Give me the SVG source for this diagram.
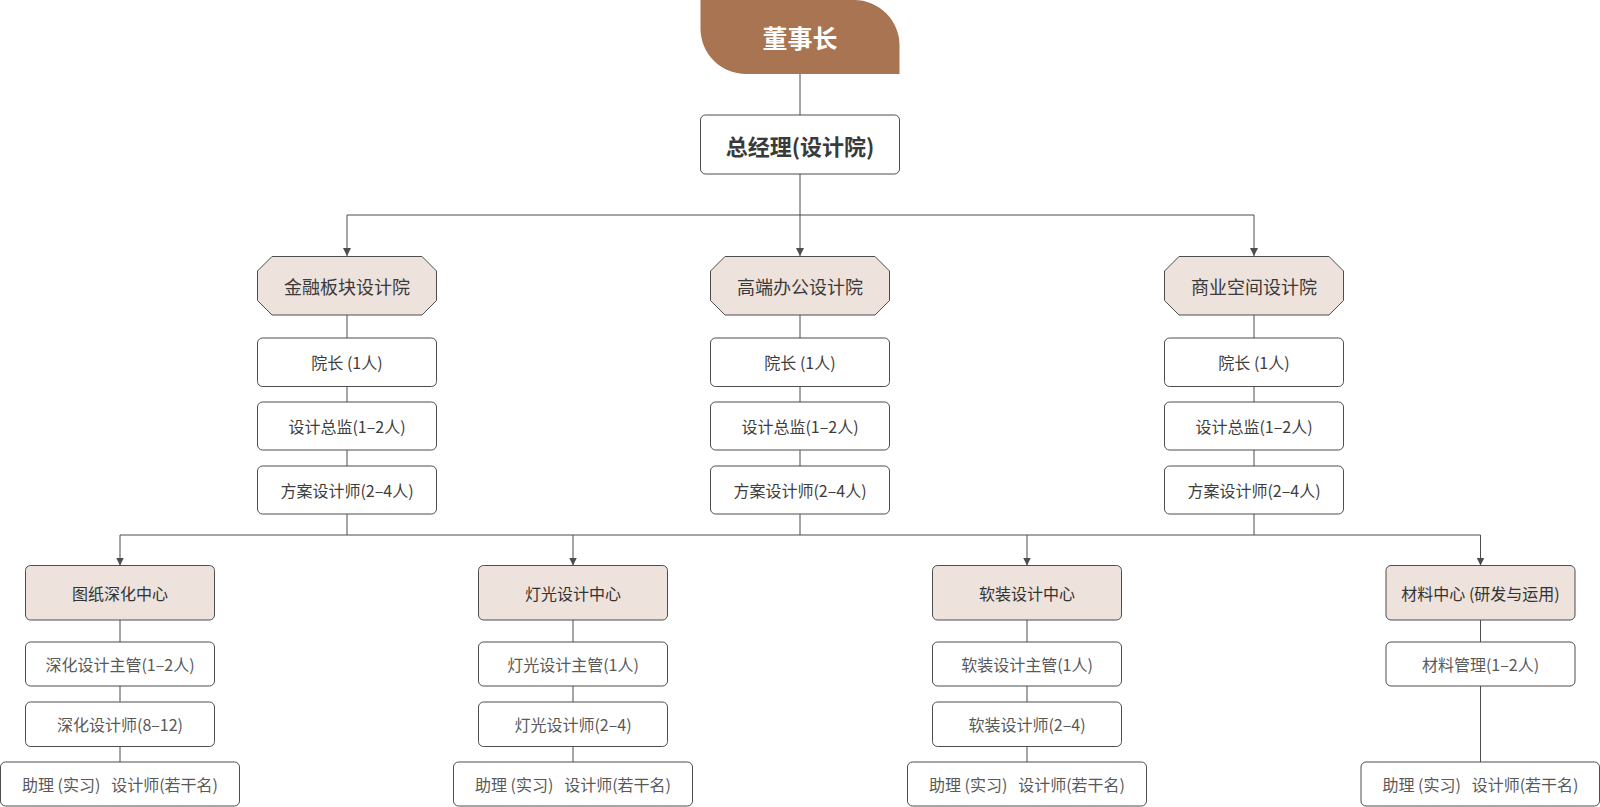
<svg xmlns="http://www.w3.org/2000/svg" width="1600" height="807" viewBox="0 0 1600 807">
<style>
text{font-family:"Noto Sans CJK SC","Noto Sans",sans-serif;text-anchor:middle;dominant-baseline:central}
.box{fill:#ffffff;stroke:#4d4d4d;stroke-width:1}
.cen{fill:#ede2dc;stroke:#4d4d4d;stroke-width:1}
.oct{fill:#ede2dc;stroke:#4d4d4d;stroke-width:1}
.ln{fill:none;stroke:#4d4d4d;stroke-width:1}
.t-top{font-size:25px;font-weight:700;fill:#ffffff}
.t-gm{font-size:22px;font-weight:700;fill:#3a3a3a}
.t-oct{font-size:18px;fill:#3a3a3a}
.t-mid{font-size:16px;fill:#3d3d3d}
.t-cen{font-size:16px;fill:#333333}
.t-sub{font-size:16px;fill:#595959}
</style>
<defs>
<marker id="arr" viewBox="0 0 8 8" refX="8" refY="4" markerWidth="8" markerHeight="8" markerUnits="userSpaceOnUse" orient="auto">
<path d="M0,0 L8,4 L0,8 Z" fill="#4d4d4d"/>
</marker>
</defs>
<rect width="1600" height="807" fill="#ffffff"/>
<g id="connectors">
<path class="ln" d="M800,74 V115"/>
<path class="ln" d="M800,174 V215"/>
<path class="ln" d="M347,215 H1254"/>
<path class="ln" d="M347,215 V256" marker-end="url(#arr)"/>
<path class="ln" d="M800,215 V256" marker-end="url(#arr)"/>
<path class="ln" d="M1254,215 V256" marker-end="url(#arr)"/>
<path class="ln" d="M347,315 V338 M347,386 V402 M347,450 V466 M347,514 V535"/>
<path class="ln" d="M800,315 V338 M800,386 V402 M800,450 V466 M800,514 V535"/>
<path class="ln" d="M1254,315 V338 M1254,386 V402 M1254,450 V466 M1254,514 V535"/>
<path class="ln" d="M120,535 H1480.5"/>
<path class="ln" d="M120,535 V565.5" marker-end="url(#arr)"/>
<path class="ln" d="M573,535 V565.5" marker-end="url(#arr)"/>
<path class="ln" d="M1027,535 V565.5" marker-end="url(#arr)"/>
<path class="ln" d="M1480.5,535 V565.5" marker-end="url(#arr)"/>
<path class="ln" d="M120,620 V642 M120,686 V702 M120,746.5 V762"/>
<path class="ln" d="M573,620 V642 M573,686 V702 M573,746.5 V762"/>
<path class="ln" d="M1027,620 V642 M1027,686 V702 M1027,746.5 V762"/>
<path class="ln" d="M1480.5,620 V642 M1480.5,686 V762"/>
</g>
<g id="n-chairman">
<path d="M700.5,0 H854 A45.5,45.5 0 0 1 899.5,45.5 V74 H746 A45.5,45.5 0 0 1 700.5,28.5 Z" fill="#a87452"/>
<text class="t-top" x="800" y="37">董事长</text>
</g>
<g id="n-gm">
<rect class="box" x="700.5" y="115" width="199" height="59" rx="5"/>
<text class="t-gm" x="800" y="144.5">总经理(设计院)</text>
</g>
<g id="n-inst1">
<path class="oct" d="M272,256.5 H422 L436.5,271 V300.5 L422,315 H272 L257.5,300.5 V271 Z"/>
<text class="t-oct" x="347" y="285.5">金融板块设计院</text>
</g>
<g id="n-inst2">
<path class="oct" d="M725,256.5 H875 L889.5,271 V300.5 L875,315 H725 L710.5,300.5 V271 Z"/>
<text class="t-oct" x="800" y="285.5">高端办公设计院</text>
</g>
<g id="n-inst3">
<path class="oct" d="M1179,256.5 H1329 L1343.5,271 V300.5 L1329,315 H1179 L1164.5,300.5 V271 Z"/>
<text class="t-oct" x="1254" y="285.5">商业空间设计院</text>
</g>
<g id="n-dean1"><rect class="box" x="257.5" y="338" width="179" height="48.5" rx="5"/><text class="t-mid" x="347" y="362">院长 (1人)</text></g>
<g id="n-dir1"><rect class="box" x="257.5" y="402" width="179" height="48" rx="5"/><text class="t-mid" x="347" y="426">设计总监(1–2人)</text></g>
<g id="n-des1"><rect class="box" x="257.5" y="466" width="179" height="48" rx="5"/><text class="t-mid" x="347" y="490">方案设计师(2–4人)</text></g>
<g id="n-dean2"><rect class="box" x="710.5" y="338" width="179" height="48.5" rx="5"/><text class="t-mid" x="800" y="362">院长 (1人)</text></g>
<g id="n-dir2"><rect class="box" x="710.5" y="402" width="179" height="48" rx="5"/><text class="t-mid" x="800" y="426">设计总监(1–2人)</text></g>
<g id="n-des2"><rect class="box" x="710.5" y="466" width="179" height="48" rx="5"/><text class="t-mid" x="800" y="490">方案设计师(2–4人)</text></g>
<g id="n-dean3"><rect class="box" x="1164.5" y="338" width="179" height="48.5" rx="5"/><text class="t-mid" x="1254" y="362">院长 (1人)</text></g>
<g id="n-dir3"><rect class="box" x="1164.5" y="402" width="179" height="48" rx="5"/><text class="t-mid" x="1254" y="426">设计总监(1–2人)</text></g>
<g id="n-des3"><rect class="box" x="1164.5" y="466" width="179" height="48" rx="5"/><text class="t-mid" x="1254" y="490">方案设计师(2–4人)</text></g>
<g id="n-c1"><rect class="cen" x="25.5" y="565.5" width="189" height="54.5" rx="5"/><text class="t-cen" x="120" y="593">图纸深化中心</text></g>
<g id="n-c1a"><rect class="box" x="25.5" y="642" width="189" height="44" rx="5"/><text class="t-sub" x="120" y="664">深化设计主管(1–2人)</text></g>
<g id="n-c1b"><rect class="box" x="25.5" y="702" width="189" height="44.5" rx="5"/><text class="t-sub" x="120" y="724">深化设计师(8–12)</text></g>
<g id="n-c1c"><rect class="box" x="0.5" y="762" width="239" height="44" rx="5"/><text class="t-sub" x="120" y="784" xml:space="preserve">助理 (实习)   设计师(若干名)</text></g>
<g id="n-c2"><rect class="cen" x="478.5" y="565.5" width="189" height="54.5" rx="5"/><text class="t-cen" x="573" y="593">灯光设计中心</text></g>
<g id="n-c2a"><rect class="box" x="478.5" y="642" width="189" height="44" rx="5"/><text class="t-sub" x="573" y="664">灯光设计主管(1人)</text></g>
<g id="n-c2b"><rect class="box" x="478.5" y="702" width="189" height="44.5" rx="5"/><text class="t-sub" x="573" y="724">灯光设计师(2–4)</text></g>
<g id="n-c2c"><rect class="box" x="453.5" y="762" width="239" height="44" rx="5"/><text class="t-sub" x="573" y="784" xml:space="preserve">助理 (实习)   设计师(若干名)</text></g>
<g id="n-c3"><rect class="cen" x="932.5" y="565.5" width="189" height="54.5" rx="5"/><text class="t-cen" x="1027" y="593">软装设计中心</text></g>
<g id="n-c3a"><rect class="box" x="932.5" y="642" width="189" height="44" rx="5"/><text class="t-sub" x="1027" y="664">软装设计主管(1人)</text></g>
<g id="n-c3b"><rect class="box" x="932.5" y="702" width="189" height="44.5" rx="5"/><text class="t-sub" x="1027" y="724">软装设计师(2–4)</text></g>
<g id="n-c3c"><rect class="box" x="907.5" y="762" width="239" height="44" rx="5"/><text class="t-sub" x="1027" y="784" xml:space="preserve">助理 (实习)   设计师(若干名)</text></g>
<g id="n-c4"><rect class="cen" x="1386" y="565.5" width="189" height="54.5" rx="5"/><text class="t-cen" x="1480.5" y="593">材料中心 (研发与运用)</text></g>
<g id="n-c4a"><rect class="box" x="1386" y="642" width="189" height="44" rx="5"/><text class="t-sub" x="1480.5" y="664">材料管理(1–2人)</text></g>
<g id="n-c4c"><rect class="box" x="1361" y="762" width="238.5" height="44" rx="5"/><text class="t-sub" x="1480.5" y="784" xml:space="preserve">助理 (实习)   设计师(若干名)</text></g>
</svg>
